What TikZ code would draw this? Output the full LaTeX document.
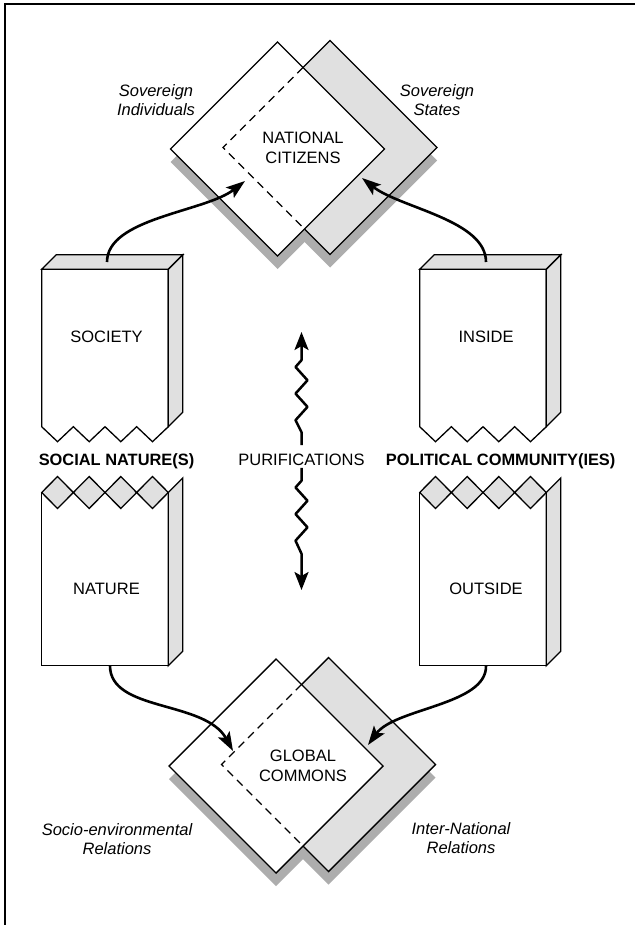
\documentclass[tikz,border=0pt]{standalone}
\usepackage{fontspec}
\setmainfont{Liberation Sans}
\usetikzlibrary{arrows.meta}
\definecolor{facegray}{gray}{0.88}
\definecolor{shadowgray}{gray}{0.68}
\tikzset{
  lbl/.style={font=\fontsize{16.5}{20}\selectfont, inner sep=0pt, align=center},
  itlbl/.style={lbl, font=\fontsize{16.5}{19.5}\selectfont\itshape},
  bflbl/.style={lbl, font=\fontsize{16.4}{20}\selectfont\bfseries},
  dline/.style={line width=1.4pt, line join=miter},
  bline/.style={line width=1.3pt, line join=miter},
  conn/.style={line width=2.6pt, -{Stealth[length=19pt,width=13pt,inset=4pt]}},
  purline/.style={line width=2.5pt, line join=round, -{Stealth[length=18pt,width=14pt,inset=4pt]}},
  pics/dpair/.style={code={
    \fill[shadowgray] (0,-94) -- (107,13) -- (0,120) -- (-107,13) -- cycle;
    \fill[shadowgray] (52.5,-95.5) -- (159.5,11.5) -- (52.5,118.5) -- (-54.5,11.5) -- cycle;
    \draw[dline, fill=facegray] (52.5,-108.5) -- (159.5,-1.5) -- (52.5,105.5) -- (-54.5,-1.5) -- cycle;
    \draw[dline, fill=white] (0,-107) -- (107,0) -- (0,107) -- (-107,0) -- cycle;
    \draw[line width=1.2pt, dash pattern=on 8pt off 5.5pt] (25.5,-81.5) -- (-54.5,-1.5) -- (27,80);
  }},
  pics/upbook/.style={code={
    \draw[bline, fill=white] (0,0) -- (0,157.4) -- (15.825,172.4) -- (31.65,157.4) -- (47.475,172.4) -- (63.3,157.4) -- (79.125,172.4) -- (94.95,157.4) -- (110.775,172.4) -- (126.6,157.4) -- (126.6,0) -- cycle;
    \draw[bline, fill=facegray] (0,0) -- (14.5,-14.5) -- (141.1,-14.5) -- (126.6,0) -- cycle;
    \draw[bline, fill=facegray] (126.6,0) -- (141.1,-14.5) -- (141.1,142.9) -- (126.6,157.4) -- cycle;
  }},
  pics/lowbook/.style={code={
    \draw[bline, fill=white] (0,0) rectangle (126.6,173.2);
    \draw[bline, fill=facegray] (126.6,0) -- (141.1,-14.5) -- (141.1,158.7) -- (126.6,173.2) -- cycle;
    \foreach \i in {0,1,2,3} {
      \draw[bline, fill=facegray] ({31.65*\i},0) -- ({31.65*\i+15.825},-16) -- ({31.65*\i+31.65},0) -- ({31.65*\i+15.825},16) -- cycle;
    }
  }},
}
\begin{document}
\begin{tikzpicture}[x=1pt,y=-1pt]
\useasboundingbox (0,0) rectangle (635,925);
\fill[white] (0,0) rectangle (635,925);
\draw[line width=2pt] (5,925) -- (5,4) -- (635,4);

% diamond pairs
\pic at (277.5,149) {dpair};
\pic at (276,766) {dpair};
\node[lbl] (nc) at (303,148) {NATIONAL\\CITIZENS};
\node[lbl] (gc) at (303,766) {GLOBAL\\COMMONS};

\node[itlbl] (si) at (156,100) {Sovereign\\Individuals};
\node[itlbl] (ss) at (437,100) {Sovereign\\States};
\node[itlbl] (ser) at (117,839) {Socio-environmental\\Relations};
\node[itlbl] (inr) at (461,838) {Inter-National\\Relations};

% books
\pic at (41.7,269.3) {upbook};
\pic at (419.7,269.3) {upbook};
\pic at (41.7,492.5) {lowbook};
\pic at (419.7,492.5) {lowbook};

\node[lbl, anchor=base] (soc) at (106.5,342.6) {SOCIETY};
\node[lbl, anchor=base] (ins) at (486,342.6) {INSIDE};
\node[lbl, anchor=base] (nat) at (106.5,594.2) {NATURE};
\node[lbl, anchor=base] (out) at (486,594.2) {OUTSIDE};
\node[bflbl, anchor=base] (sn) at (116.5,465.9) {SOCIAL NATURE(S)};
\node[bflbl, anchor=base] (pc) at (500.6,465.9) {POLITICAL COMMUNITY(IES)};
\node[lbl, anchor=base] (pur) at (301.5,465.4) {PURIFICATIONS};

% connector ends
\coordinate (socT) at (107,262);
\coordinate (insT) at (486,262);
\coordinate (natB) at (110,665.7);
\coordinate (outB) at (486,665.7);
\coordinate (ncL) at (245,181);
\coordinate (ncR) at (362,178);
\coordinate (gcL) at (233,751);
\coordinate (gcR) at (368,745);
\coordinate (purU) at (301.5,332);
\coordinate (purD) at (301.5,590);

\draw[conn] (socT) .. controls (107,218) and (205,212) .. (ncL);
\draw[conn] (insT) .. controls (486,220) and (400,208) .. (ncR);
\draw[conn] (natB) .. controls (110,712) and (205,700) .. (gcL);
\draw[conn] (outB) .. controls (487,705) and (395,708) .. (gcR);

% purifications
\draw[purline] ([yshift=8.5pt]pur.north) -- ++(0,-13) -- ++(-6,-12) -- ++(12,-13.3) -- ++(-12,-13.3) -- ++(12,-13.3) -- ++(-12,-13.3) -- ++(6,-6.8) -- (purU);
\draw[purline] ([yshift=-2pt]pur.south) -- ++(0,13) -- ++(-6,6.7) -- ++(12,13.3) -- ++(-12,13.3) -- ++(12,13.3) -- ++(-12,13.3) -- ++(6,13) -- (purD);
\end{tikzpicture}
\end{document}
